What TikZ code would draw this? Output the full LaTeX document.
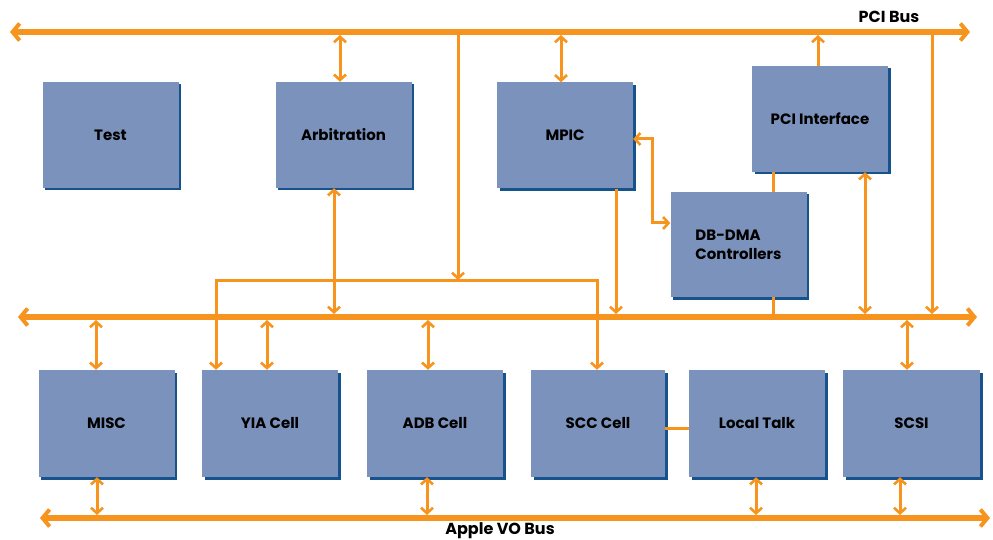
\documentclass[tikz,border=0pt]{standalone}
\usepackage{fontspec}
\setmainfont{Poppins}
\usetikzlibrary{arrows.meta,shadows}
\definecolor{boxblue}{RGB}{123,147,188}
\definecolor{shadeblue}{RGB}{22,82,140}
\definecolor{busorange}{RGB}{247,148,29}
\tikzset{
  blockbox/.style={fill=boxblue, draw=none, minimum width=136pt, minimum height=106pt,
    general shadow={fill=shadeblue, shadow xshift=2.5pt, shadow yshift=-2.5pt},
    font=\fontsize{15}{19}\selectfont\bfseries, text=black, inner sep=0pt},
  busline/.style={line width=6pt, draw=busorange, line cap=butt,
    arrows={Straight Barb[length=7pt,width=17pt,line width=4pt]-Straight Barb[length=7pt,width=17pt,line width=4pt]}},
  wire/.style={line width=3pt, draw=busorange, line cap=butt},
  tipA/.tip={Straight Barb[length=5.5pt,width=12pt,line width=2.6pt]},
  biw/.style={wire, arrows={tipA-tipA}},
  onew/.style={wire, arrows={-tipA}},
  buslabel/.style={font=\fontsize{16}{18}\selectfont\bfseries, inner sep=0pt}
}
\begin{document}
\begin{tikzpicture}[x=1pt,y=-1pt]
\useasboundingbox (0,0) rectangle (993,540);
% bus end points
\coordinate (tL) at (10,32);  \coordinate (tR) at (970,32);
\coordinate (mL) at (18,317); \coordinate (mR) at (977,317);
\coordinate (bL) at (40,518); \coordinate (bR) at (990,518);
\coordinate (brL) at (216,280); \coordinate (brR) at (597,280);
% buses
\draw[busline] (tL) -- (tR);
\draw[busline] (mL) -- (mR);
\draw[busline] (bL) -- (bR);
\node[buslabel] (pcibus) at (889,17) {PCI Bus};
\node[buslabel] (iobus) at (500,531) {Apple VO Bus};
% boxes
\node[blockbox] (test) at (110.5,135) {Test};
\node[blockbox] (arb) at (343.5,135) {Arbitration};
\node[blockbox] (mpic) at (565,135.5) {MPIC};
\node[blockbox] (pci) at (820,119) {PCI Interface};
\node[blockbox, minimum height=105pt, align=left] (dma) at (738.5,244.5) {DB-DMA\\Controllers};
\node[blockbox, minimum height=107pt] (misc) at (106.5,423.5) {MISC};
\node[blockbox, minimum height=107pt] (yia) at (270,423.5) {YIA Cell};
\node[blockbox, minimum height=107pt] (adb) at (435,423.5) {ADB Cell};
\node[blockbox, minimum height=107pt, minimum width=134pt] (scc) at (598,423.5) {SCC Cell};
\node[blockbox, minimum height=107pt] (lt) at (757,423.5) {Local Talk};
\node[blockbox, minimum height=107pt, minimum width=137pt] (scsi) at (911.5,423.5) {SCSI};
% top connections
\draw[biw] ([xshift=-3.5pt]arb.north) -- ([xshift=-3.5pt,yshift=-3pt]arb.north |- tL);
\draw[biw] ([xshift=-4pt]mpic.north) -- ([xshift=-4pt,yshift=-3pt]mpic.north |- tL);
\draw[onew] ([xshift=-2pt]pci.north) -- ([xshift=-2pt,yshift=-3pt]pci.north |- tL);
\coordinate (v1t) at (458,32);
\draw[onew] (v1t) -- (v1t |- brL);
\draw[wire, arrows={tipA-tipA}] (yia.north -| brL) -- (brL) -- (brR) -- (scc.north -| brR);
% middle connections
\draw[biw] ([xshift=-9.5pt]arb.south) -- ([xshift=-9.5pt,yshift=3pt]arb.south |- mL);
\draw[onew] ([xshift=51pt]mpic.south) -- ([xshift=51pt,yshift=3pt]mpic.south |- mL);
\draw[wire, arrows={tipA-tipA}] ([yshift=-3.5pt]mpic.east) -- ++(19,0) |- ([yshift=21.5pt]dma.west);
\draw[wire] ([xshift=34.5pt]dma.north) -- ([xshift=34.5pt]dma.north |- pci.south);
\draw[wire] ([xshift=34.5pt]dma.south) -- ([xshift=34.5pt]dma.south |- mL);
\draw[biw] ([xshift=45pt]pci.south) -- ([xshift=45pt,yshift=3pt]pci.south |- mL);
\coordinate (v2t) at (932,32);
\draw[onew] (v2t) -- ([yshift=3pt]v2t |- mL);
% lower connections
\draw[biw] ([xshift=-10.5pt]misc.north) -- ([xshift=-10.5pt,yshift=-3pt]misc.north |- mL);
\draw[biw] ([xshift=-3pt]yia.north) -- ([xshift=-3pt,yshift=-3pt]yia.north |- mL);
\draw[biw] ([xshift=-7pt]adb.north) -- ([xshift=-7pt,yshift=-3pt]adb.north |- mL);
\draw[biw] ([xshift=-4.5pt]scsi.north) -- ([xshift=-4.5pt,yshift=-3pt]scsi.north |- mL);
\draw[biw] ([xshift=-9.5pt]misc.south) -- ([xshift=-9.5pt,yshift=3pt]misc.south |- bL);
\draw[biw] ([xshift=-8pt]adb.south) -- ([xshift=-8pt,yshift=3pt]adb.south |- bL);
\draw[biw] ([xshift=-1pt]lt.south) -- ([xshift=-1pt,yshift=3pt]lt.south |- bL);
\draw[biw] ([xshift=-11.5pt]scsi.south) -- ([xshift=-11.5pt,yshift=3pt]scsi.south |- bL);
\draw[wire] ([yshift=-4.5pt]scc.east) -- ([yshift=-4.5pt]lt.west);
\end{tikzpicture}
\end{document}
